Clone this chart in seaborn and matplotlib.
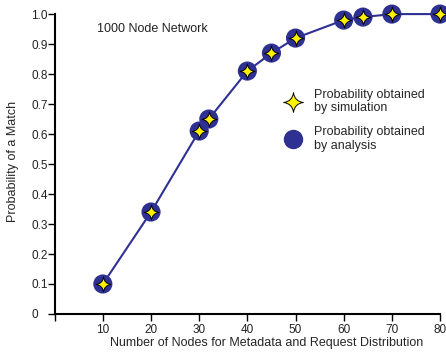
import matplotlib
matplotlib.use("Agg")
import matplotlib.pyplot as plt
from matplotlib.path import Path
from matplotlib.lines import Line2D
import seaborn as sns
import pandas as pd

nodes = [10, 20, 30, 32, 40, 45, 50, 60, 64, 70, 80]
prob_sim = [0.10, 0.34, 0.61, 0.65, 0.81, 0.87, 0.92, 0.98, 0.99, 1.0, 1.0]
prob_ana = [0.10, 0.34, 0.61, 0.65, 0.81, 0.87, 0.92, 0.98, 0.99, 1.0, 1.0]
x_ticks = [0, 10, 20, 30, 40, 50, 60, 70, 80]
x_tick_labels = ["", "10", "20", "30", "40", "50", "60", "70", "80"]
y_ticks = [0, 0.1, 0.2, 0.3, 0.4, 0.5, 0.6, 0.7, 0.8, 0.9, 1.0]
y_tick_labels = ["0", "0.1", "0.2", "0.3", "0.4", "0.5", "0.6", "0.7", "0.8", "0.9", "1.0"]

df = pd.DataFrame({"nodes": nodes, "sim": prob_sim, "ana": prob_ana})

sns.set_style("white")
plt.rcParams["font.family"] = ["Liberation Sans", "DejaVu Sans"]

BLUE = "#2e3192"
YELLOW = "#fff200"

# concave four-pointed star
c = 0.12
verts = [(0, 1), (c, c), (1, 0), (c, -c), (0, -1), (-c, -c), (-1, 0), (-c, c), (0, 1), (0, 1)]
codes = [Path.MOVETO, Path.CURVE3, Path.CURVE3, Path.CURVE3, Path.CURVE3,
         Path.CURVE3, Path.CURVE3, Path.CURVE3, Path.CURVE3, Path.CLOSEPOLY]
star = Path(verts, codes)

fig = plt.figure(figsize=(4.46, 3.52), dpi=100)
ax = fig.add_axes([0.1226, 0.108, 0.8640, 0.852])

sns.lineplot(data=df, x="nodes", y="ana", color=BLUE, linewidth=1.5, ax=ax, zorder=2)
sns.scatterplot(data=df, x="nodes", y="ana", color=BLUE, s=190, edgecolor="none",
                marker="o", ax=ax, zorder=3)
sns.scatterplot(data=df, x="nodes", y="sim", color=YELLOW, s=115, edgecolor="black",
                linewidth=0.7, marker=star, ax=ax, zorder=4)

ax.set_xlim(0, 80)
ax.set_ylim(0, 1.0)
ax.set_xticks(x_ticks)
ax.set_xticklabels(x_tick_labels)
ax.set_yticks(y_ticks)
ax.set_yticklabels(y_tick_labels)
ax.tick_params(axis="both", which="major", bottom=True, left=True, direction="out",
               length=5, width=1.0, color="black", labelsize=8.5, labelcolor="#222222")
ax.tick_params(axis="x", pad=2)
ax.tick_params(axis="y", pad=12)
for lab in ax.get_yticklabels():
    lab.set_horizontalalignment("left")
for side in ["top", "right"]:
    ax.spines[side].set_visible(False)
for side in ["left", "bottom"]:
    ax.spines[side].set_color("black")
    ax.spines[side].set_linewidth(1.5)
for coll in ax.collections:
    coll.set_clip_on(False)
for ln in ax.lines:
    ln.set_clip_on(False)

ax.set_xlabel("Number of Nodes for Metadata and Request Distribution", fontsize=9)
ax.set_ylabel("Probability of a Match", fontsize=9)
ax.xaxis.set_label_coords(0.551, -0.076)
ax.yaxis.set_label_coords(-0.093, 0.51)

ax.text(0.11, 0.95, "1000 Node Network", transform=ax.transAxes, fontsize=9,
        ha="left", va="center", color="#222222")

handles = [
    Line2D([], [], linestyle="none", marker=star, markersize=14, markerfacecolor=YELLOW,
           markeredgecolor="black", markeredgewidth=0.7),
    Line2D([], [], linestyle="none", marker="o", markersize=14, markerfacecolor=BLUE,
           markeredgecolor="none"),
]
labels = ["Probability obtained\nby simulation", "Probability obtained\nby analysis"]
ax.legend(handles, labels, frameon=False, loc="upper left", bbox_to_anchor=(0.585, 0.768),
          fontsize=9, labelspacing=0.9, handletextpad=1.15, borderaxespad=0,
          handlelength=1.2)

fig.savefig("out.png", dpi=100)
